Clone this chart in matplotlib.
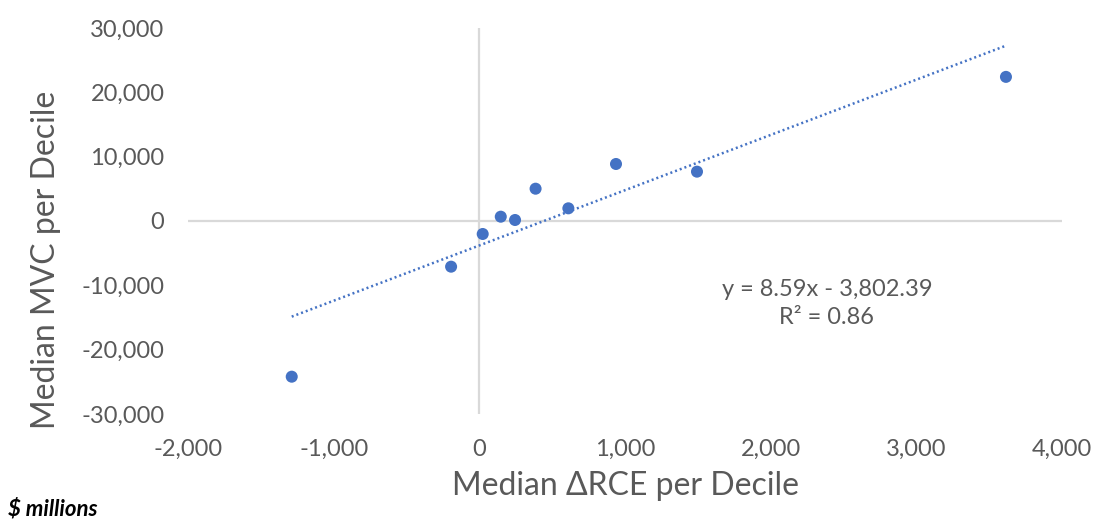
import numpy as np
import matplotlib
matplotlib.use("Agg")
import matplotlib.pyplot as plt
from matplotlib.ticker import FuncFormatter

# median change in RCE vs median MVC, one point per decile ($ millions)
rce = [-1288, -194, 23, 147, 245, 386, 611, 938, 1494, 3615]
mvc = [-24200, -7100, -2020, 670, 155, 5020, 1970, 8860, 7670, 22400]
slope = 8.59
intercept = -3802.39
r_squared = 0.86

x_ticks = [-2000, -1000, 0, 1000, 2000, 3000, 4000]
y_ticks = [-30000, -20000, -10000, 0, 10000, 20000, 30000]

blue = "#4472C4"
grey_text = "#595959"
axis_grey = "#D9D9D9"

plt.rcParams["font.family"] = ["Lato", "DejaVu Sans"]

fig = plt.figure(figsize=(10.95, 5.23), dpi=100)
ax = fig.add_axes([0.1717, 0.2084, 0.7982, 0.7381])
ax.set_xlim(x_ticks[0], x_ticks[-1])
ax.set_ylim(y_ticks[0], y_ticks[-1])

for side in ax.spines.values():
	side.set_visible(False)
ax.axhline(0, color=axis_grey, linewidth=1.6, zorder=1)
ax.axvline(0, color=axis_grey, linewidth=1.6, zorder=1)

# linear trendline across the data range
xs = np.array([min(rce), max(rce)])
ax.plot(xs, slope * xs + intercept, color=blue, linewidth=1.8,
		linestyle=(0, (0.8, 1.2)), zorder=2)
ax.scatter(rce, mvc, s=75, color=blue, edgecolors="none", zorder=3)

ax.set_xticks(x_ticks)
ax.set_yticks(y_ticks)
fmt = FuncFormatter(lambda v, _: f"{v:,.0f}")
ax.xaxis.set_major_formatter(fmt)
ax.yaxis.set_major_formatter(fmt)
ax.tick_params(length=0, labelsize=17, labelcolor=grey_text, pad=17)
ax.tick_params(axis="x", pad=18)

ax.set_xlabel("Median ΔRCE per Decile", fontsize=23, color=grey_text, labelpad=8)
ax.set_ylabel("Median MVC per Decile", fontsize=23, color=grey_text)
ax.yaxis.set_label_coords(-0.145, 0.40)

ax.text(2386, -12830, f"y = {slope:.2f}x - {abs(intercept):,.2f}\nR² = {r_squared:.2f}",
		ha="center", va="center", fontsize=17, color=grey_text, linespacing=1.45)

fig.text(0.007, 0.006, "$ millions", fontsize=16, fontweight="bold",
		 fontstyle="italic", color="black", ha="left", va="bottom")

fig.savefig("out.png", dpi=100)
plt.close(fig)
